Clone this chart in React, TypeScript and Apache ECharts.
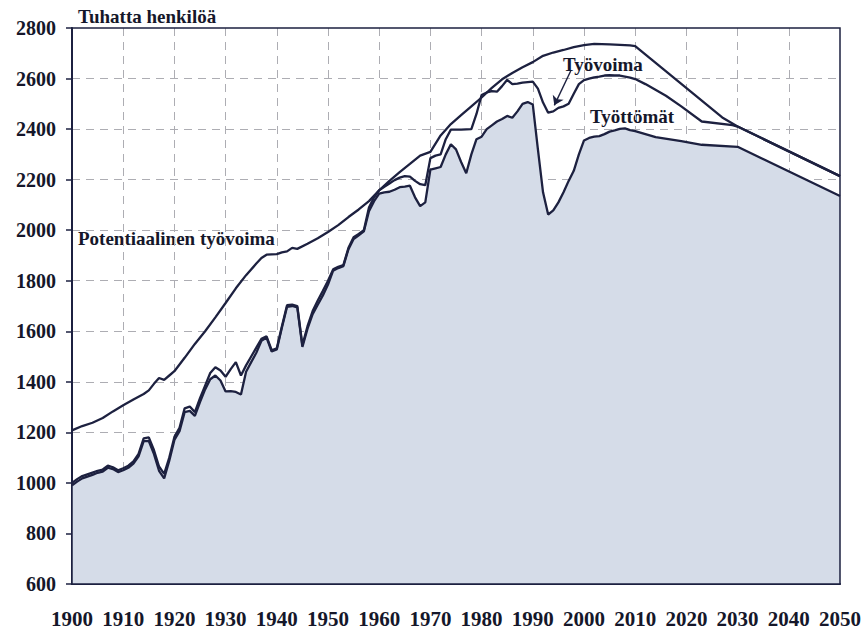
import React, { useEffect, useRef } from "react";
import * as echarts from "echarts";

// Potentiaalinen työvoima (potential labour force), thousands of persons
const potentialData: [number, number][] = [
  [1900, 1208], [1902, 1225], [1904, 1238], [1906, 1257], [1908, 1283], [1910, 1307],
  [1912, 1330], [1914, 1352], [1915, 1366], [1916, 1392], [1917, 1415], [1918, 1408],
  [1919, 1425], [1920, 1442], [1922, 1495], [1924, 1550], [1926, 1600], [1928, 1655],
  [1930, 1712], [1932, 1770], [1934, 1822], [1936, 1868], [1937, 1890], [1938, 1903],
  [1940, 1905], [1941, 1912], [1942, 1916], [1943, 1930], [1944, 1926], [1946, 1946],
  [1948, 1968], [1950, 1993], [1952, 2020], [1954, 2052], [1956, 2082], [1958, 2115],
  [1960, 2158], [1962, 2195], [1964, 2230], [1966, 2262], [1968, 2295], [1970, 2310],
  [1972, 2375], [1974, 2420], [1976, 2455], [1978, 2490], [1980, 2525], [1982, 2563],
  [1984, 2597], [1986, 2622], [1988, 2645], [1990, 2665], [1992, 2690], [1994, 2703],
  [1996, 2713], [1998, 2724], [2000, 2732], [2002, 2737], [2005, 2735], [2009, 2731],
  [2010, 2728], [2027, 2446], [2030, 2410], [2050, 2214],
];

// Työvoima (labour force)
const laborData: [number, number][] = [
  [1900, 1000], [1901, 1015], [1902, 1027], [1903, 1034], [1904, 1041], [1905, 1048],
  [1906, 1053], [1907, 1068], [1908, 1062], [1909, 1050], [1910, 1058], [1911, 1068],
  [1912, 1085], [1913, 1115], [1914, 1176], [1915, 1180], [1916, 1130], [1917, 1065],
  [1918, 1036], [1919, 1100], [1920, 1182], [1921, 1218], [1922, 1295], [1923, 1302],
  [1924, 1280], [1925, 1335], [1926, 1385], [1927, 1435], [1928, 1458], [1929, 1445],
  [1930, 1420], [1931, 1450], [1932, 1478], [1933, 1425], [1934, 1465], [1935, 1500],
  [1936, 1535], [1937, 1570], [1938, 1580], [1939, 1525], [1940, 1533], [1941, 1620],
  [1942, 1703], [1943, 1705], [1944, 1700], [1945, 1545], [1946, 1620], [1947, 1680],
  [1948, 1722], [1949, 1760], [1950, 1800], [1951, 1845], [1952, 1855], [1953, 1862],
  [1954, 1930], [1955, 1972], [1956, 1985], [1957, 2000], [1958, 2090], [1959, 2130],
  [1960, 2158], [1961, 2172], [1962, 2185], [1963, 2198], [1964, 2208], [1965, 2214],
  [1966, 2212], [1967, 2195], [1968, 2182], [1969, 2178], [1970, 2285], [1971, 2295],
  [1972, 2300], [1973, 2360], [1974, 2398], [1975, 2398], [1976, 2398], [1977, 2399],
  [1978, 2400], [1979, 2460], [1980, 2535], [1981, 2545], [1982, 2550], [1983, 2548],
  [1984, 2570], [1985, 2595], [1986, 2578], [1987, 2580], [1988, 2584], [1989, 2586],
  [1990, 2588], [1991, 2560], [1992, 2505], [1993, 2465], [1994, 2470], [1995, 2484],
  [1996, 2490], [1997, 2500], [1998, 2540], [1999, 2578], [2000, 2594], [2001, 2600],
  [2002, 2605], [2003, 2608], [2004, 2612], [2005, 2613], [2006, 2612], [2007, 2612],
  [2008, 2608], [2009, 2604], [2010, 2598], [2012, 2578], [2016, 2532], [2019, 2490],
  [2023, 2430], [2029, 2416], [2030, 2410], [2050, 2214],
];

// Työllisyys (employment)
const employmentData: [number, number][] = [
  [1900, 990], [1901, 1005], [1902, 1018], [1903, 1025], [1904, 1032], [1905, 1040],
  [1906, 1045], [1907, 1060], [1908, 1055], [1909, 1043], [1910, 1050], [1911, 1060],
  [1912, 1076], [1913, 1105], [1914, 1165], [1915, 1166], [1916, 1115], [1917, 1048],
  [1918, 1018], [1919, 1088], [1920, 1170], [1921, 1205], [1922, 1280], [1923, 1285],
  [1924, 1265], [1925, 1320], [1926, 1370], [1927, 1410], [1928, 1425], [1929, 1405],
  [1930, 1362], [1931, 1363], [1932, 1360], [1933, 1350], [1934, 1440], [1935, 1478],
  [1936, 1515], [1937, 1562], [1938, 1575], [1939, 1520], [1940, 1528], [1941, 1615],
  [1942, 1697], [1943, 1700], [1944, 1695], [1945, 1538], [1946, 1610], [1947, 1668],
  [1948, 1705], [1949, 1742], [1950, 1785], [1951, 1840], [1952, 1850], [1953, 1858],
  [1954, 1925], [1955, 1965], [1956, 1980], [1957, 1995], [1958, 2075], [1959, 2115],
  [1960, 2145], [1961, 2150], [1962, 2152], [1963, 2160], [1964, 2170], [1965, 2172],
  [1966, 2176], [1967, 2130], [1968, 2095], [1969, 2110], [1970, 2240], [1971, 2245],
  [1972, 2250], [1973, 2300], [1974, 2340], [1975, 2320], [1976, 2270], [1977, 2225],
  [1978, 2300], [1979, 2360], [1980, 2370], [1981, 2400], [1982, 2415], [1983, 2430],
  [1984, 2440], [1985, 2452], [1986, 2445], [1987, 2470], [1988, 2500], [1989, 2507],
  [1990, 2497], [1991, 2320], [1992, 2150], [1993, 2062], [1994, 2078], [1995, 2110],
  [1996, 2150], [1997, 2195], [1998, 2235], [1999, 2300], [2000, 2355], [2001, 2365],
  [2002, 2370], [2003, 2372], [2004, 2380], [2005, 2390], [2006, 2395], [2007, 2401],
  [2008, 2403], [2009, 2396], [2010, 2392], [2014, 2368], [2019, 2352], [2023, 2338],
  [2030, 2330], [2050, 2135],
];

const xTicks = { min: 1900, max: 2050, interval: 10 };
const yTicks = { min: 600, max: 2800, interval: 200 };

const INK = "#1d2140";
const FILL = "#d5dce8";
const TEXT = "#15172a";
const GRID = "#adadb3";
const FONT = "'Liberation Serif', 'Times New Roman', serif";

export default function App() {
  const ref = useRef<HTMLDivElement>(null);

  useEffect(() => {
    if (!ref.current) return;
    const chart = echarts.init(ref.current, undefined, { renderer: "svg" });
    const lineBase = {
      type: "line" as const,
      showSymbol: false,
      symbol: "none",
      lineStyle: { color: INK, width: 2.3 },
      itemStyle: { color: INK },
      silent: true,
    };
    const split = {
      show: true,
      showMinLine: false,
      showMaxLine: false,
      lineStyle: { color: GRID, type: [8, 6], width: 1 },
    };
    chart.setOption({
      animation: false,
      backgroundColor: "#ffffff",
      grid: {
        left: 72,
        right: 26,
        top: 28,
        bottom: 42,
        show: true,
        borderColor: INK,
        borderWidth: 1.5,
        backgroundColor: "transparent",
        z: 5,
      },
      xAxis: {
        type: "value",
        min: xTicks.min,
        max: xTicks.max,
        interval: xTicks.interval,
        axisLine: { show: true, onZero: false, lineStyle: { color: INK, width: 2 } },
        axisTick: { show: false },
        axisLabel: {
          margin: 24,
          color: TEXT,
          fontFamily: FONT,
          fontWeight: "bold",
          fontSize: 21,
          formatter: (v: number) => String(v),
        },
        splitLine: split,
      },
      yAxis: {
        type: "value",
        min: yTicks.min,
        max: yTicks.max,
        interval: yTicks.interval,
        name: "Tuhatta henkilöä",
        nameLocation: "end",
        nameGap: 12,
        nameTextStyle: {
          align: "left",
          verticalAlign: "middle",
          padding: [0, 0, 0, 6],
          color: TEXT,
          fontFamily: FONT,
          fontWeight: "bold",
          fontSize: 19,
        },
        axisLine: { show: true, lineStyle: { color: INK, width: 2 } },
        axisTick: { show: true, length: 6, lineStyle: { color: INK, width: 1.5 } },
        axisLabel: {
          margin: 16,
          color: TEXT,
          fontFamily: FONT,
          fontWeight: "bold",
          fontSize: 20,
          formatter: (v: number) => String(v),
        },
        splitLine: split,
      },
      series: [
        {
          ...lineBase,
          name: "Työllisyys",
          data: employmentData,
          areaStyle: { color: FILL, opacity: 1, origin: "start" },
          z: 2,
        },
        {
          ...lineBase,
          name: "Työvoima",
          data: laborData,
          z: 3,
          markLine: {
            silent: true,
            symbol: ["none", "arrow"],
            symbolSize: 9,
            label: { show: false },
            lineStyle: { color: INK, width: 1.4, type: "solid" },
            data: [[{ coord: [1997.4, 2630] }, { coord: [1994.2, 2494] }]],
          },
        },
        {
          ...lineBase,
          name: "Potentiaalinen työvoima",
          data: potentialData,
          z: 4,
        },
      ],
      graphic: [
        {
          type: "text",
          x: 78,
          y: 238,
          style: {
            text: "Potentiaalinen työvoima",
            fill: TEXT,
            font: `bold 19px ${FONT}`,
            verticalAlign: "middle",
          },
        },
        {
          type: "text",
          x: 563,
          y: 64,
          style: { text: "Työvoima", fill: TEXT, font: `bold 19px ${FONT}`, verticalAlign: "middle" },
        },
        {
          type: "text",
          x: 590,
          y: 116,
          style: { text: "Työttömät", fill: TEXT, font: `bold 19px ${FONT}`, verticalAlign: "middle" },
        },
        {
          type: "text",
          x: 607,
          y: 422,
          style: { text: "Työllisyys", fill: TEXT, font: `bold 19px ${FONT}`, verticalAlign: "middle" },
        },
      ],
    });
    return () => chart.dispose();
  }, []);

  return (
    <div
      ref={ref}
      style={{ position: "fixed", left: 0, top: 0, width: 866, height: 629, background: "#fff" }}
    />
  );
}
